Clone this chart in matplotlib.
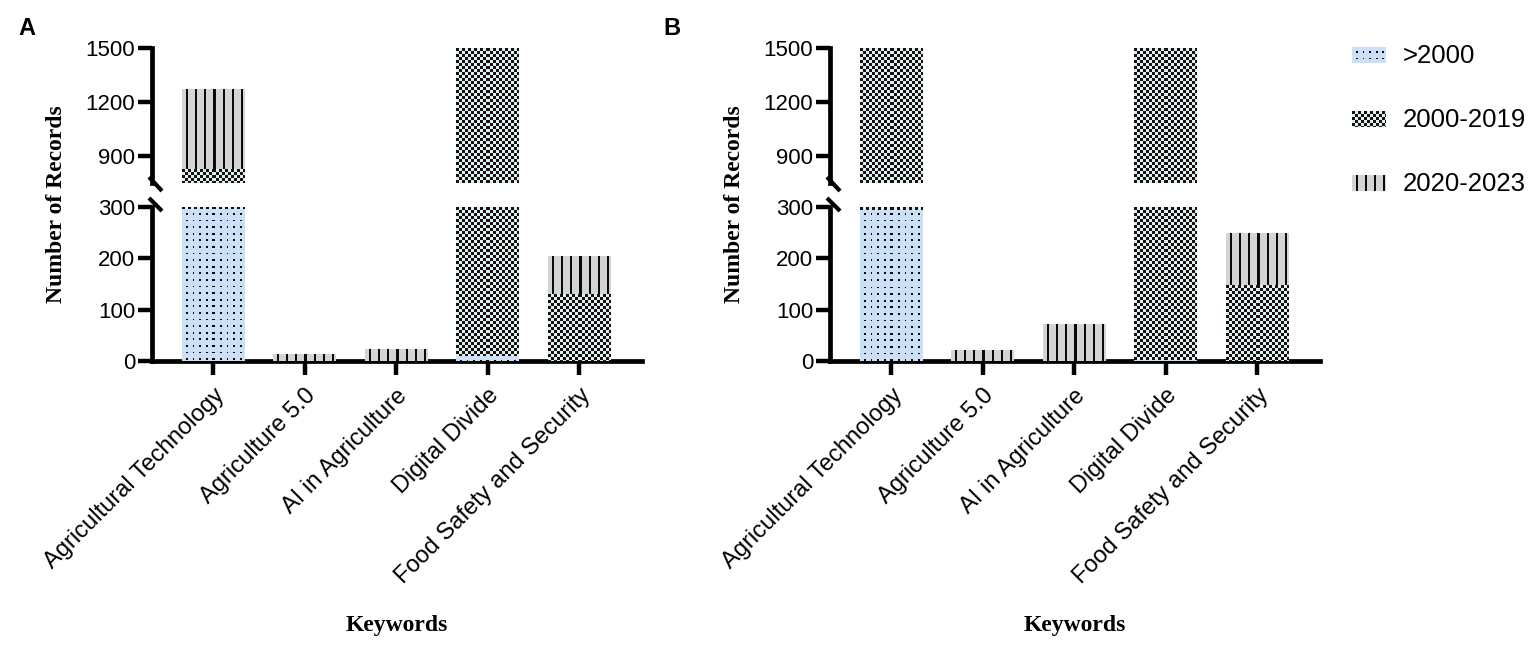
import numpy as np
import matplotlib
matplotlib.use("Agg")
import matplotlib.pyplot as plt
from matplotlib.patches import Rectangle

plt.rcParams['font.family'] = ['Liberation Sans', 'DejaVu Sans']

# ---------------- data ----------------
categories = ["Agricultural Technology", "Agriculture 5.0", "AI in Agriculture",
              "Digital Divide", "Food Safety and Security"]
series_names = [">2000", "2000-2019", "2020-2023"]

A_pre2000 = [296, 0, 0, 10, 0]
A_2000_2019 = [530, 0, 0, 1600, 130]
A_2020_2023 = [439, 12, 23, 400, 73]

B_pre2000 = [295, 0, 0, 2, 0]
B_2000_2019 = [1600, 0, 0, 1600, 148]
B_2020_2023 = [400, 20, 72, 400, 100]

lower_ticks = [0, 100, 200, 300]
upper_ticks = [900, 1200, 1500]
lower_lim = (0, 300)
upper_lim = (750, 1500)

# ---------------- layout ----------------
W, H, DPI = 1535, 646, 100
fig = plt.figure(figsize=(W / DPI, H / DPI), dpi=DPI)

def rect(l, r, top, bot):
    return [l / W, 1 - bot / H, (r - l) / W, (bot - top) / H]

kinds = ["dots", "checker", "lines"]
bg_cols = {"dots": "#cbdff6", "checker": "#d6f2f2", "lines": "#d4d4d4"}


def pattern(kind, w, h):
    jj, ii = np.meshgrid(np.arange(w), np.arange(h))
    img = np.zeros((h, w, 4), dtype=np.uint8)
    img[..., 3] = 255
    if kind == "dots":
        bg = (203, 223, 246); fg = (10, 10, 10)
        mask = (((jj + 3) % 6.6) < 1.8) & (((ii + 3) % 6.6) < 1.8)
    elif kind == "checker":
        bg = (214, 242, 242); fg = (32, 14, 14)
        mask = ((jj // 3 + ii // 3) % 2) == 0
    else:
        bg = (212, 212, 212); fg = (10, 10, 10)
        mask = ((jj % 9) == 4) | ((jj % 9) == 5)
    img[..., :3] = bg
    img[mask, :3] = fg
    return img


def fill(ax, x0, x1, y0, y1, kind):
    lo, hi = ax.get_ylim()
    yb, yt = max(y0, lo), min(y1, hi)
    if yt <= yb:
        return
    p0 = ax.transData.transform((x0, yb))
    p1 = ax.transData.transform((x1, yt))
    w = max(1, int(round(p1[0] - p0[0])))
    h = max(1, int(round(p1[1] - p0[1])))
    ax.imshow(pattern(kind, w, h), extent=(x0, x1, yb, yt), origin="upper",
              aspect="auto", interpolation="nearest", zorder=3)


def draw_panel(left, right, data, label, label_x):
    ax_up = fig.add_axes(rect(left, right, 48, 183))
    ax_lo = fig.add_axes(rect(left, right, 207, 361))
    x = np.arange(len(categories))
    for ax, lim, ticks, lower in [(ax_up, upper_lim, upper_ticks, False),
                                  (ax_lo, lower_lim, lower_ticks, True)]:
        ax.set_xlim(-0.667, 4.688)
        ax.set_ylim(*lim)
        ax.set_autoscale_on(False)
        ax.set_facecolor("none")
        for s in ["top", "right"]:
            ax.spines[s].set_visible(False)
        ax.spines["left"].set_linewidth(3.4)
        ax.set_yticks(ticks)
        ax.tick_params(axis="y", width=3.2, length=10, labelsize=16, pad=2)
        if lower:
            ax.spines["bottom"].set_linewidth(3.4)
            ax.set_xticks(x)
            ax.set_xticklabels(categories, rotation=45, ha="right",
                               rotation_mode="anchor", fontsize=17)
            ax.tick_params(axis="x", width=3.2, length=10, pad=7)
        else:
            ax.spines["bottom"].set_visible(False)
            ax.set_xticks([])
        bottom = np.zeros(len(categories))
        for vals, kind in zip(data, kinds):
            bars = ax.bar(x, vals, bottom=bottom, width=0.68, color=bg_cols[kind],
                          linewidth=0, zorder=2)
            for r in bars:
                if r.get_height() > 0:
                    fill(ax, r.get_x(), r.get_x() + r.get_width(),
                         r.get_y(), r.get_y() + r.get_height(), kind)
            bottom = bottom + np.array(vals)
        ax.set_xlim(-0.667, 4.688)
        ax.set_ylim(*lim)
    # axis titles
    fig.text((left - 95) / W, 1 - 204.5 / H, "Number of Records", rotation=90,
             ha="center", va="center", family="Liberation Serif",
             weight="bold", size=17)
    fig.text((left + right) / 2 / W, 1 - 625 / H, "Keywords", ha="center",
             va="center", family="Liberation Serif", weight="bold", size=17)
    fig.text(label_x / W, 1 - 35 / H, label, ha="left", va="baseline",
             weight="bold", size=17)


draw_panel(152, 642, [A_pre2000, A_2000_2019, A_2020_2023], "A", 18)
draw_panel(830, 1320, [B_pre2000, B_2000_2019, B_2020_2023], "B", 663)

# overlay for break marks and legend
ov = fig.add_axes([0, 0, 1, 1])
ov.set_xlim(0, W)
ov.set_ylim(H, 0)
ov.set_autoscale_on(False)
ov.axis("off")
ov.set_facecolor("none")
for sx in [152, 830]:
    ov.plot([sx - 3, sx + 10], [183 - 6, 183 + 8], color="black", lw=3.0,
            solid_capstyle="butt")
    ov.plot([sx - 3, sx + 10], [207 - 9, 207 + 4], color="black", lw=3.0,
            solid_capstyle="butt")

leg_centers = [55, 119, 183]
for name, kind, cy in zip(series_names, kinds, leg_centers):
    x0, x1 = 1352, 1386
    y0, y1 = cy - 8, cy + 8
    ov.add_patch(Rectangle((x0, y0), x1 - x0, y1 - y0, facecolor=bg_cols[kind],
                           linewidth=0))
    ov.imshow(pattern(kind, x1 - x0, y1 - y0), extent=(x0, x1, y1, y0),
              origin="upper", aspect="auto", interpolation="nearest", zorder=3)
    ov.text(1403, cy + 8, name, ha="left", va="baseline", fontsize=18.5)
ov.set_xlim(0, W)
ov.set_ylim(H, 0)

fig.savefig("out.png", dpi=DPI)
